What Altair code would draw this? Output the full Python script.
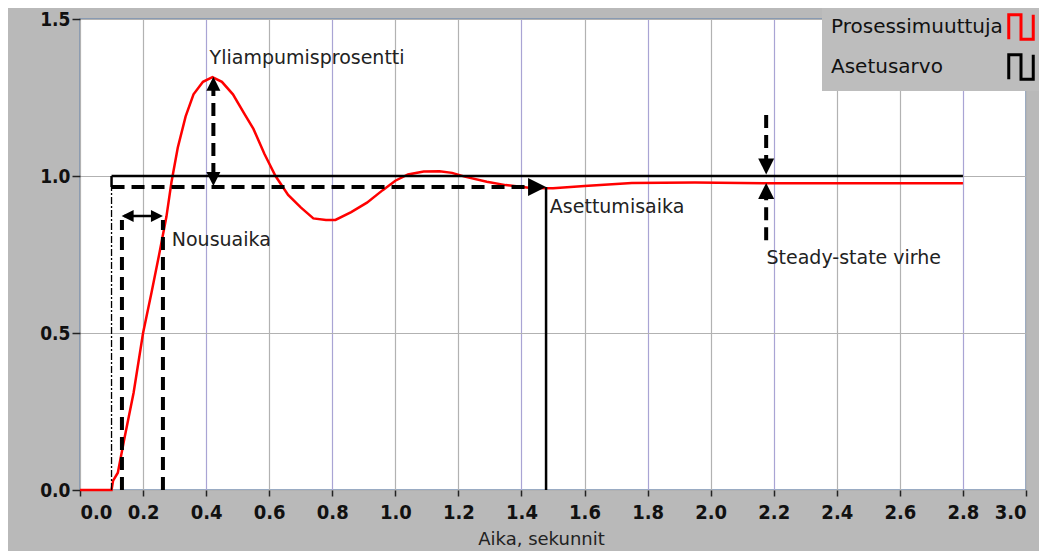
import altair as alt
import pandas as pd

# ---- data ----
t_proc = [0.0, 0.10, 0.105, 0.12, 0.14, 0.17, 0.20, 0.227, 0.253, 0.274, 0.29, 0.31, 0.335, 0.36,
          0.39, 0.42, 0.45, 0.485, 0.52, 0.55, 0.585, 0.62, 0.66, 0.70, 0.74, 0.78, 0.81, 0.86,
          0.91, 0.96, 1.00, 1.04, 1.09, 1.14, 1.18, 1.22, 1.29, 1.35, 1.43, 1.50, 1.60, 1.75,
          1.95, 2.2, 2.5, 2.8]
y_proc = [0.0, 0.0, 0.03, 0.055, 0.16, 0.31, 0.50, 0.63, 0.76, 0.87, 0.98, 1.09, 1.19, 1.26,
          1.30, 1.315, 1.30, 1.26, 1.20, 1.15, 1.07, 1.00, 0.94, 0.90, 0.865, 0.86, 0.86, 0.885,
          0.915, 0.955, 0.985, 1.005, 1.014, 1.015, 1.01, 0.998, 0.982, 0.971, 0.962, 0.961,
          0.968, 0.978, 0.979, 0.977, 0.977, 0.977]
t_set = [0.1, 2.8]
y_set = [1.0, 1.0]

series_names = ["Prosessimuuttuja", "Asetusarvo"]
series_colors = ["#ff0000", "#000000"]

x_ticks = [0.0, 0.2, 0.4, 0.6, 0.8, 1.0, 1.2, 1.4, 1.6, 1.8, 2.0, 2.2, 2.4, 2.6, 2.8, 3.0]
y_ticks = [0.0, 0.5, 1.0, 1.5]
purple_grid = [0.4, 0.8, 1.4, 1.8, 2.2, 2.8]

# annotation segments (thick dashed)
dash_x = [0.10, 0.423, 0.133, 0.263, 2.176, 2.176]
dash_x2 = [1.42, 0.423, 0.133, 0.263, 2.176, 2.176]
dash_y = [0.965, 1.00, 0.0, 0.0, 1.194, 0.795]
dash_y2 = [0.965, 1.29, 0.86, 0.86, 1.03, 0.955]

# solid annotation segments
solid_x = [1.478, 0.14, 0.10]
solid_x2 = [1.478, 0.25, 0.10]
solid_y = [0.0, 0.873, 0.965]
solid_y2 = [0.965, 0.873, 1.0]

# thin dash-dot segment
thin_x = [0.10]
thin_y = [0.0]
thin_y2 = [0.965]

# arrow heads (tip positions)
arrow_t = [1.478, 0.423, 0.423, 0.132, 0.263, 2.176, 2.176]
arrow_v = [0.965, 1.316, 0.968, 0.873, 0.873, 1.005, 0.978]
arrow_dir = ["right", "up", "down", "left", "right", "down", "up"]
arrow_size = [324, 196, 196, 144, 144, 256, 256]

# labels
label_text = ["Yliampumisprosentti", "Nousuaika", "Asettumisaika", "Steady-state virhe"]
label_t = [0.411, 0.291, 1.49, 2.177]
label_v = [1.376, 0.796, 0.901, 0.739]

# ---- tables ----
lines = pd.DataFrame({
    "t": t_proc + t_set,
    "v": y_proc + y_set,
    "s": [series_names[0]] * len(t_proc) + [series_names[1]] * len(t_set),
})
dashed = pd.DataFrame({"x": dash_x, "x2": dash_x2, "y": dash_y, "y2": dash_y2})
solid = pd.DataFrame({"x": solid_x, "x2": solid_x2, "y": solid_y, "y2": solid_y2})
thin = pd.DataFrame({"x": thin_x, "y": thin_y, "y2": thin_y2})
arrows = pd.DataFrame({"t": arrow_t, "v": arrow_v, "d": arrow_dir, "sz": arrow_size})
labels = pd.DataFrame({"txt": label_text, "t": label_t, "v": label_v})

xscale = alt.Scale(domain=[0, 3], nice=False, zero=False)
yscale = alt.Scale(domain=[0, 1.5], nice=False)

grid_test = " || ".join(f"abs(datum.value - {g}) < 0.01" for g in purple_grid)

x_axis = alt.Axis(
    values=x_ticks, format=".1f", title="Aika, sekunnit",
    labelFont="DejaVu Sans Condensed", labelFontWeight="bold", labelFontSize=20,
    labelColor="#111111", labelPadding=6, tickColor="#222222", tickSize=6, tickWidth=1.5,
    domain=False, grid=True, gridWidth=1.2,
    gridColor={"condition": {"test": grid_test, "value": "#a9a4d4"}, "value": "#b2b2b2"},
    titleFont="DejaVu Sans", titleFontSize=18, titleFontWeight="normal", titleColor="#222222",
    titlePadding=8, titleX=461, titleAlign="center", labelOverlap=False,
)
y_axis = alt.Axis(
    values=y_ticks, format=".1f", title=None,
    labelFont="DejaVu Sans Condensed", labelFontWeight="bold", labelFontSize=19,
    labelColor="#111111", labelPadding=2, tickColor="#222222", tickSize=8, tickWidth=1.5,
    domain=False, grid=True, gridColor="#b2b2b2", gridWidth=1.2, labelOverlap=False,
)

square_wave = "M-1,1L-1,-1L0,-1L0,1L1,1L1,-1"

line_layer = alt.Chart(lines).mark_line(strokeWidth=2.5, interpolate="linear").encode(
    x=alt.X("t:Q", scale=xscale, axis=x_axis),
    y=alt.Y("v:Q", scale=yscale, axis=y_axis),
    color=alt.Color(
        "s:N",
        scale=alt.Scale(domain=series_names, range=series_colors),
        sort=series_names,
        legend=alt.Legend(
            title=None, orient="none", legendX=742, legendY=-11,
            fillColor="#bdbdbd", padding=5,
            labelFont="DejaVu Sans", labelFontSize=20, labelColor="#111111",
            labelOffset={"expr": "-204"}, labelLimit=400, symbolOffset=180,
            symbolType=square_wave, symbolSize=600, symbolStrokeWidth=3,
            rowPadding=2,
        ),
    ),
    order=alt.Order("t:Q"),
)

dashed_layer = alt.Chart(dashed).mark_rule(strokeWidth=4, strokeDash=[13, 7], color="black").encode(
    x=alt.X("x:Q", scale=xscale), x2="x2:Q",
    y=alt.Y("y:Q", scale=yscale), y2="y2:Q",
)
solid_layer = alt.Chart(solid).mark_rule(strokeWidth=2.5, color="black").encode(
    x=alt.X("x:Q", scale=xscale), x2="x2:Q",
    y=alt.Y("y:Q", scale=yscale), y2="y2:Q",
)
thin_layer = alt.Chart(thin).mark_rule(strokeWidth=1.3, strokeDash=[7, 2, 2, 2], color="black").encode(
    x=alt.X("x:Q", scale=xscale),
    y=alt.Y("y:Q", scale=yscale), y2="y2:Q",
)
arrow_layer = alt.Chart(arrows).mark_point(filled=True, color="black", opacity=1, strokeWidth=0).encode(
    x=alt.X("t:Q", scale=xscale),
    y=alt.Y("v:Q", scale=yscale),
    shape=alt.Shape(
        "d:N",
        scale=alt.Scale(
            domain=["up", "down", "left", "right"],
            range=["M0,0L-1,2L1,2Z", "M0,0L-1,-2L1,-2Z", "M0,0L2,-1L2,1Z", "M0,0L-2,-1L-2,1Z"],
        ),
        legend=None,
    ),
    size=alt.Size("sz:Q", scale=None, legend=None),
)
text_layer = alt.Chart(labels).mark_text(
    align="left", baseline="middle", font="DejaVu Sans", fontSize=19, color="#222222"
).encode(
    x=alt.X("t:Q", scale=xscale),
    y=alt.Y("v:Q", scale=yscale),
    text="txt:N",
)

chart = alt.layer(
    line_layer, thin_layer, dashed_layer, solid_layer, arrow_layer, text_layer
).properties(
    width=946, height=471,
    padding={"left": 72, "top": 11, "right": 13, "bottom": 61},
    autosize=alt.AutoSizeParams(type="none"),
    background="#b9b9b9",
).configure_view(
    fill="white", stroke="#7890b0", strokeWidth=1.5
)

chart.save("out.html", embed_options={"renderer": "svg", "actions": False})
